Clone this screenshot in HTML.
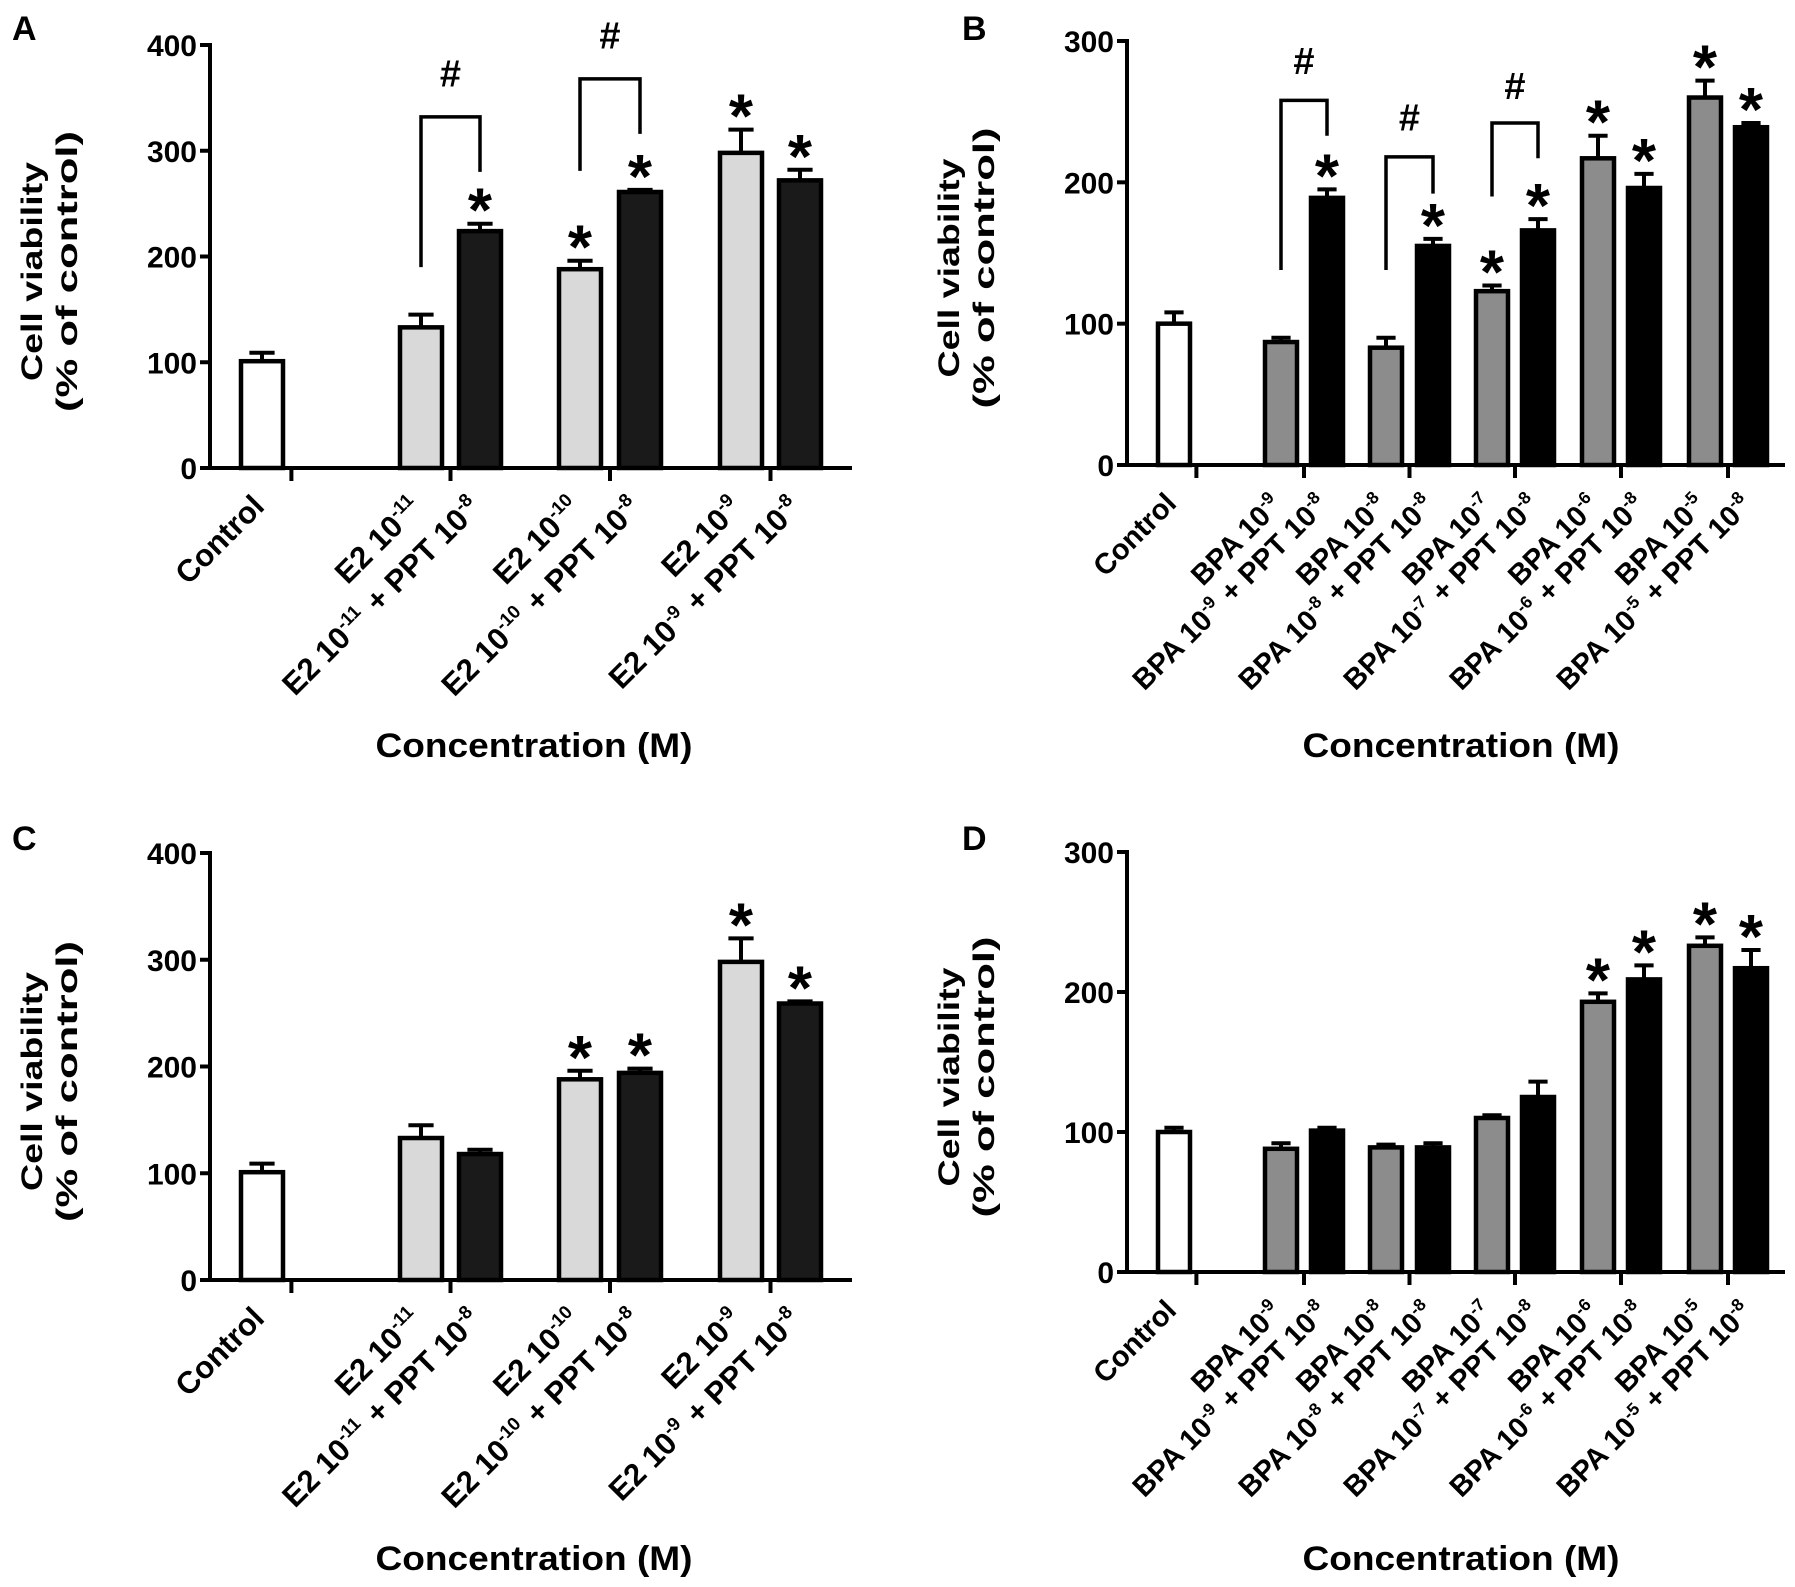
<!DOCTYPE html>
<html><head><meta charset="utf-8"><style>
html,body{margin:0;padding:0;background:#fff;}
svg{display:block;font-family:"Liberation Sans",Arial,sans-serif;}
</style></head><body>
<svg id="fig" width="1795" height="1587" viewBox="0 0 1795 1587" xmlns="http://www.w3.org/2000/svg"></svg>
<script>
// ---------- data ----------
const e2Categories = ["Control","E2 10^-11","E2 10^-11 + PPT 10^-8","E2 10^-10","E2 10^-10 + PPT 10^-8","E2 10^-9","E2 10^-9 + PPT 10^-8"];
const bpaCategories = ["Control","BPA 10^-9","BPA 10^-9 + PPT 10^-8","BPA 10^-8","BPA 10^-8 + PPT 10^-8","BPA 10^-7","BPA 10^-7 + PPT 10^-8","BPA 10^-6","BPA 10^-6 + PPT 10^-8","BPA 10^-5","BPA 10^-5 + PPT 10^-8"];
const valuesA = [101,133,224,188,261,298,272];
const errorsA = [8,12,7,8,2,22,10];
const starsA = [0,0,1,1,1,1,1];
const valuesB = [100,87,189,83,155,123,166,217,196,260,239];
const errorsB = [8,3,6,7,5,4,8,16,10,12,3];
const starsB = [0,0,1,0,1,1,1,1,1,1,1];
const valuesC = [101,133,118,188,194,298,259];
const errorsC = [8,12,4,8,4,22,2];
const starsC = [0,0,0,1,1,1,1];
const valuesD = [100,88,101,89,89,110,125,193,209,233,217];
const errorsD = [3,4,2,2,3,2,11,6,10,6,13];
const starsD = [0,0,0,0,0,0,0,1,1,1,1];
const ticksA = [0,100,200,300,400];
const ticksB = [0,100,200,300];
// brackets: [leftBarIndex, rightBarIndex, topValue, leftBottomValue, rightBottomValue, hashValue]
const bracketsA = [[1,2,332,190,280,373],[3,4,368,281,316,409]];
const bracketsB = [[1,2,258,138,233,286],[3,4,218,138,192,246],[5,6,242,190,217,268]];

// ---------- drawing ----------
const svg = document.getElementById('fig');
const NS = 'http://www.w3.org/2000/svg';
function mk(tag, attrs, parent){const e=document.createElementNS(NS,tag);for(const k in attrs)e.setAttribute(k,attrs[k]);(parent||svg).appendChild(e);return e;}

function catLabel(g, text, x, y, fs){
  const t = mk('text',{x:x,y:y,'text-anchor':'end','font-size':fs,'font-weight':'bold',transform:`rotate(-45 ${x} ${y})`},g);
  
  
  const parts = text.split(/(\^-?\d+)/);
  parts.forEach(p=>{
    if(!p) return;
    if(p[0]==='^'){
      const s=document.createElementNS(NS,'tspan');s.setAttribute('font-size',fs*0.6);s.setAttribute('dy',-fs*0.4);s.textContent=p.slice(1);t.appendChild(s);
      const r=document.createElementNS(NS,'tspan');r.setAttribute('dy',fs*0.4);r.textContent='\u200A';t.appendChild(r);
    } else {
      const s=document.createElementNS(NS,'tspan');s.textContent=p;t.appendChild(s);
    }
  });
}

function panel(cfg){
  const g = mk('g',{});
  
  
  const yS = v => cfg.y0 - (v/cfg.ymax)*(cfg.y0-cfg.ytop);
  const L = mk('text',{x:cfg.letterX,y:cfg.letterY,'font-size':34,'font-weight':'bold'},g);
  
  
  L.textContent=cfg.letter;
  const cy=(cfg.y0+cfg.ytop)/2+15;
  const t1=mk('text',{x:cfg.ax-168,y:cy,'font-size':30,'font-weight':'bold','text-anchor':'middle',transform:`rotate(-90 ${cfg.ax-168} ${cy})`,textLength:219,lengthAdjust:'spacingAndGlyphs'},g);
  
  
  t1.textContent='Cell viability';
  const t2=mk('text',{x:cfg.ax-133,y:cy,'font-size':30,'font-weight':'bold','text-anchor':'middle',transform:`rotate(-90 ${cfg.ax-133} ${cy})`,textLength:281,lengthAdjust:'spacingAndGlyphs'},g);
  
  
  t2.textContent='(% of control)';
  cfg.values.forEach((v,i)=>{
    const x=cfg.xs[i], w=cfg.bw, top=yS(v), et=yS(v+cfg.errors[i]);
    const fill = i===0 ? '#fff' : (i%2===1 ? cfg.light : cfg.dark);
    const eb=mk('line',{x1:x,x2:x,y1:top,y2:et,stroke:'#000','stroke-width':4},g);
    
    
    const cap=mk('line',{x1:x-w*0.3,x2:x+w*0.3,y1:et,y2:et,stroke:'#000','stroke-width':4},g);
    
    
    const r=mk('rect',{x:x-w/2,y:top,width:w,height:cfg.y0-top,fill:fill,stroke:'#000','stroke-width':4.5},g);
    
    
    if(cfg.stars[i]){
      const s=mk('text',{x:x,y:et+8,'font-size':62,'font-weight':'bold','text-anchor':'middle'},g);
      
      
      s.textContent='*';
    }
    catLabel(g, cfg.cats[i], x+4, cfg.y0+40, cfg.lfs);
  });
  (cfg.brackets||[]).forEach(b=>{
    const xl=cfg.xs[b[0]], xr=cfg.xs[b[1]];
    const p=mk('path',{d:`M${xl},${yS(b[3])} V${yS(b[2])} H${xr} V${yS(b[4])}`,fill:'none',stroke:'#000','stroke-width':3.5},g);
    
    
    const h=mk('text',{x:(xl+xr)/2,y:yS(b[5])+13,'font-size':38,'font-weight':'bold','text-anchor':'middle'},g);
    
    
    h.textContent='#';
  });
  const ya=mk('line',{x1:cfg.ax,x2:cfg.ax,y1:cfg.ytop-2,y2:cfg.y0+2,stroke:'#000','stroke-width':4},g);
  
  
  const xa=mk('line',{x1:cfg.ax-2,x2:cfg.axEnd,y1:cfg.y0,y2:cfg.y0,stroke:'#000','stroke-width':4},g);
  
  
  cfg.ticks.forEach(v=>{
    const y=yS(v);
    mk('line',{x1:cfg.ax-10,x2:cfg.ax,y1:y,y2:y,stroke:'#000','stroke-width':4},g);
    const tl=mk('text',{x:cfg.ax-13,y:y+11,'font-size':30,'font-weight':'bold','text-anchor':'end'},g);
    
    
    tl.textContent=v;
  });
  for(let i=0;i<cfg.xs.length;i++){
    let x = i===0 ? cfg.xs[0]+cfg.bw*0.7 : (i%2===1 ? (cfg.xs[i]+cfg.xs[i+1])/2 : null);
    if(x===null) continue;
    const tk=mk('line',{x1:x,x2:x,y1:cfg.y0,y2:cfg.y0+13,stroke:'#000','stroke-width':4},g);
    
    
  }
  const xt=mk('text',{x:cfg.titleX,y:cfg.titleY,'font-size':34,'font-weight':'bold','text-anchor':'middle',textLength:317,lengthAdjust:'spacingAndGlyphs'},g);
  
  
  xt.textContent='Concentration (M)';
}

const xsE2=[262,421,480,580,640,741,800];
const xsBPA=[1174,1281,1327,1386,1433,1492,1538,1598,1644,1705,1751];

panel({name:'panel-a',letter:'A',letterX:12,letterY:40,cats:e2Categories,values:valuesA,errors:errorsA,stars:starsA,brackets:bracketsA,lfs:31,
  xs:xsE2,bw:42,ax:210,axEnd:852,y0:468,ytop:45,ymax:400,ticks:ticksA,light:'#d9d9d9',dark:'#1a1a1a',titleX:534,titleY:757});
panel({name:'panel-b',letter:'B',letterX:962,letterY:40,cats:bpaCategories,values:valuesB,errors:errorsB,stars:starsB,brackets:bracketsB,lfs:29,
  xs:xsBPA,bw:32,ax:1127,axEnd:1785,y0:465,ytop:41,ymax:300,ticks:ticksB,light:'#8c8c8c',dark:'#000',titleX:1461,titleY:757});
panel({name:'panel-c',letter:'C',letterX:12,letterY:850,cats:e2Categories,values:valuesC,errors:errorsC,stars:starsC,brackets:[],lfs:31,
  xs:xsE2,bw:42,ax:210,axEnd:852,y0:1280,ytop:853,ymax:400,ticks:ticksA,light:'#d9d9d9',dark:'#1a1a1a',titleX:534,titleY:1570});
panel({name:'panel-d',letter:'D',letterX:962,letterY:850,cats:bpaCategories,values:valuesD,errors:errorsD,stars:starsD,brackets:[],lfs:29,
  xs:xsBPA,bw:32,ax:1127,axEnd:1785,y0:1272,ytop:852,ymax:300,ticks:ticksB,light:'#8c8c8c',dark:'#000',titleX:1461,titleY:1570});
</script>
</body></html>
